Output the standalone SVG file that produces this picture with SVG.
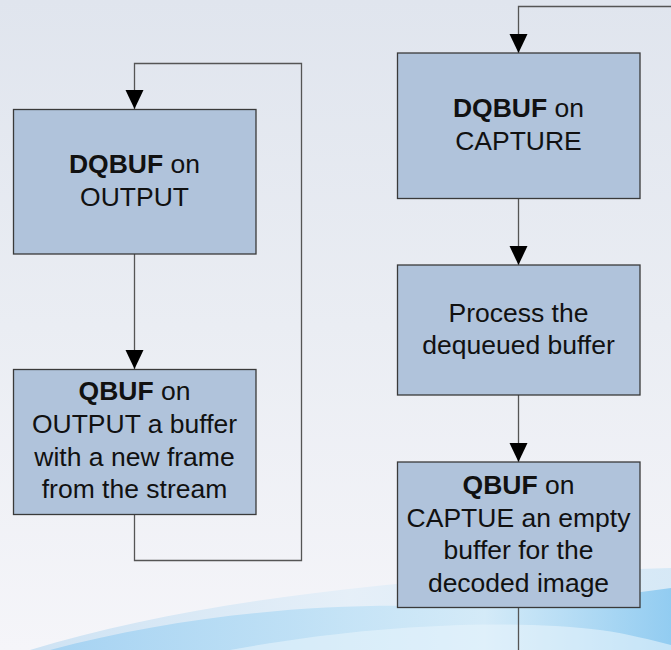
<svg xmlns="http://www.w3.org/2000/svg" width="671" height="650" viewBox="0 0 671 650">
<defs>
<linearGradient id="bg" x1="0" y1="0" x2="0" y2="1">
<stop offset="0" stop-color="#e0e5ee"/>
<stop offset="0.5" stop-color="#eaedf3"/>
<stop offset="1" stop-color="#f5f5f9"/>
</linearGradient>
<linearGradient id="sw1" x1="0" y1="0" x2="1" y2="0">
<stop offset="0" stop-color="#c4def2"/>
<stop offset="0.5" stop-color="#e2eef8"/>
<stop offset="1" stop-color="#cfe6f6"/>
</linearGradient>
<linearGradient id="sw2" x1="0" y1="0" x2="1" y2="0">
<stop offset="0" stop-color="#9fd0f2"/>
<stop offset="0.4" stop-color="#b9def5"/>
<stop offset="0.7" stop-color="#d2eaf8"/>
<stop offset="1" stop-color="#86c7f0"/>
</linearGradient>
<marker id="ah" markerWidth="19" markerHeight="18" refX="19" refY="9" orient="auto" markerUnits="userSpaceOnUse" viewBox="0 0 19 18">
<path d="M0,0 L19,9 L0,18 Z" fill="#000"/>
</marker>
<style>
.box{fill:#b0c3db;stroke:#3a3a3a;stroke-width:1.3}
.t{font-family:"Liberation Sans",Arial,sans-serif;font-size:26.5px;fill:#111;text-anchor:middle}
.b{font-weight:bold}
.c{fill:none;stroke:#555;stroke-width:1.3}
</style>
</defs>
<rect x="0" y="0" width="671" height="650" fill="url(#bg)"/>
<path d="M30,650 C200,598 430,574 671,568 L671,650 Z" fill="url(#sw1)" opacity="0.8"/>
<path d="M50,650 C170,618 300,604 420,606 C520,608 600,598 671,588 L671,650 Z" fill="url(#sw2)" opacity="0.85"/>
<path d="M230,650 C360,626 500,618 600,630 C630,634 650,640 671,645 L671,650 Z" fill="#e6f3fb" opacity="0.6"/>
<g id="connectors">
<path class="c" d="M134.5,514.5 V560.5 H301.5 V63.5 H134.5 V109"/>
<path class="c" d="M134.5,254 V369"/>
<path class="c" d="M671,6.5 H518.5 V53"/>
<path class="c" d="M518.5,198.5 V265"/>
<path class="c" d="M518.5,395 V462"/>
<path class="c" d="M518.5,607.5 V650"/>
<path d="M125.5,90 H143.5 L134.5,109 Z"/>
<path d="M125.5,350 H143.5 L134.5,369 Z"/>
<path d="M509.5,34 H527.5 L518.5,53 Z"/>
<path d="M509.5,246 H527.5 L518.5,265 Z"/>
<path d="M509.5,443 H527.5 L518.5,462 Z"/>
</g>
<g id="dqbuf-output">
<rect class="box" x="13.5" y="109.5" width="242.5" height="144.5"/>
<text class="t" x="134.5" y="173"><tspan class="b">DQBUF</tspan> on</text>
<text class="t" x="134.5" y="205.5">OUTPUT</text>
</g>
<g id="qbuf-output">
<rect class="box" x="13.5" y="369.5" width="242.5" height="145"/>
<text class="t" x="134.5" y="400"><tspan class="b">QBUF</tspan> on</text>
<text class="t" x="134.5" y="433">OUTPUT a buffer</text>
<text class="t" x="134.5" y="465.5">with a new frame</text>
<text class="t" x="134.5" y="498">from the stream</text>
</g>
<g id="dqbuf-capture">
<rect class="box" x="397.5" y="53" width="242.5" height="145.5"/>
<text class="t" x="518.5" y="116.5"><tspan class="b">DQBUF</tspan> on</text>
<text class="t" x="518.5" y="150">CAPTURE</text>
</g>
<g id="process">
<rect class="box" x="397.5" y="265" width="242.5" height="130"/>
<text class="t" x="518.5" y="321.5">Process the</text>
<text class="t" x="518.5" y="354">dequeued buffer</text>
</g>
<g id="qbuf-capture">
<rect class="box" x="397.5" y="462" width="242.5" height="145.5"/>
<text class="t" x="518.5" y="494"><tspan class="b">QBUF</tspan> on</text>
<text class="t" x="518.5" y="526.5">CAPTUE an empty</text>
<text class="t" x="518.5" y="558.5">buffer for the</text>
<text class="t" x="518.5" y="591.5">decoded image</text>
</g>
</svg>
